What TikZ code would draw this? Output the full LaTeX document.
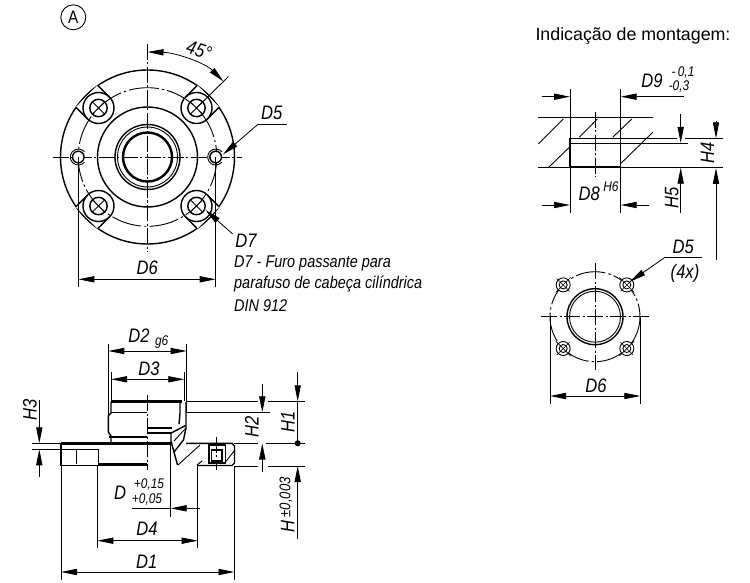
\documentclass[tikz,border=0pt]{standalone}
\usepackage{amsmath}
\usepackage{fontspec}
\setmainfont[FakeStretch=0.85]{Liberation Sans}
\newfontfamily\plainfont{Liberation Sans}
\usetikzlibrary{arrows.meta}
\tikzset{
  thinline/.style={line width=0.9pt},
  heavy/.style={line width=1.4pt},
  thickest/.style={line width=2.4pt},
  axisline/.style={line width=0.8pt,dash pattern=on 16pt off 2.5pt on 2pt off 2.5pt},
  boltcircle/.style={line width=0.9pt,dash pattern=on 30pt off 3pt on 2.5pt off 3pt},
  dimline/.style={line width=0.8pt,{Triangle[length=16pt,width=6.2pt]}-{Triangle[length=16pt,width=6.2pt]}},
  tipend/.style={line width=0.8pt,-{Triangle[length=16pt,width=6.2pt]}},
  dimtext/.style={font=\fontsize{19.5}{19.5}\selectfont\itshape,inner sep=0pt},
  smalltext/.style={font=\fontsize{14}{14}\selectfont\itshape,inner sep=0pt},
  notetext/.style={font=\fontsize{17}{17}\selectfont\itshape,inner sep=0pt,anchor=west},
}
\begin{document}
\begin{tikzpicture}[x=1pt,y=-1pt]
\useasboundingbox (0,0) rectangle (750,583);

% view from above
\coordinate (c) at (147.5,157);
\node[draw,thinline,circle,minimum size=25pt,inner sep=0pt,font=\fontsize{18}{18}\selectfont] (markA) at (73.3,17.3) {A};
\draw[heavy] (c) circle[radius=87] (c) circle[radius=50];
\draw[heavy] (c) circle[radius=32.5];
\draw[thinline] (c) circle[radius=30];
\draw[thickest] (c) circle[radius=24.5];
\draw[boltcircle] (c) circle[radius=69.3];
\foreach \a in {45,135,225,315} {
  \begin{scope}[shift={(c)},rotate=\a]
    \fill[white] (69.3,-15) rectangle (86,15);
    \draw[heavy] (69.3,0) circle[radius=15.5];
    \draw[heavy] (69.3,0) circle[radius=8.7];
    \draw[heavy] (69.3,-15.5) -- (85.3,-15.5) (69.3,15.5) -- (85.3,15.5);
    \draw[thinline] (61,0) -- (78,0) (69.3,-8) -- (69.3,8);
  \end{scope}
}
\draw[axisline] (147.5,44) -- (147.5,252);
\draw[axisline] (52.7,157) -- (242,157);
\foreach \x in {78.3,215.7} {
  \draw[heavy,fill=white] (\x,157) circle[radius=5.8];
  \draw[thinline] (\x,157) ++(40:8) arc[start angle=40,end angle=320,radius=8];
}
\fill (147.5,157) circle[radius=0.8];
\draw[thinline] (196.5,108) -- (228.3,76.7);
\draw[line width=0.8pt,{Triangle[length=16pt,width=6.2pt]}-{Triangle[length=16pt,width=6.2pt]}]
  (147.5,52) .. controls (174,52.5) and (204,62) .. (223.5,81.5);
\node[dimtext,rotate=-18] (ang) at (199,50) {45°};
\coordinate (d5knee) at (258.3,124);
\draw[thinline] (286.7,124) -- (d5knee);
\draw[tipend] (d5knee) -- (223,154.5);
\coordinate (d7end) at (232.7,234);
\draw[tipend] (d7end) -- (205.5,210);
\node[dimtext] (d5top) at (271.7,113) {D5};
\node[dimtext] (d7top) at (246,240.7) {D7};
\node[notetext] (note1) at (234,263) {D7 - Furo passante para};
\node[notetext] (note2) at (234,284.5) {parafuso de cabeça cilíndrica};
\node[notetext] (note3) at (234,306) {DIN 912};
\draw[thinline] (78.3,157) -- (78.3,287) (215.7,157) -- (215.7,287);
\draw[dimline] (78.3,279.3) -- (215.7,279.3);
\node[dimtext] (d6top) at (147.3,268) {D6};

% section from the side
\draw[heavy] (111,401.5) -- (111,413) -- (108.3,416) -- (108.3,432) -- (111,436) -- (111,443);
\draw[thickest] (111,401.5) -- (181.5,401.5);
\draw[heavy] (111,412.7) -- (147,412.7) (147,428) -- (171.7,428) (147,433) -- (171.7,433);
\draw[thickest] (109,436.7) -- (147,436.7);
\draw[heavy] (180,401.5) -- (180,413) -- (179,424) (186,401.5) -- (186,428) -- (183.5,440) -- (174,452);
\draw[heavy] (171.7,432.7) -- (185.7,425.5);
\draw[heavy] (171,433) -- (171,441) -- (177.5,465);
\draw[thinline] (174,441) -- (186,428);
\draw[thinline] (178,465) -- (200,445);
\draw[thinline] (197,465) -- (202,461);
% flange
\draw[thickest] (61,443.3) -- (172,443.3);
\draw[heavy] (186,443.3) -- (232,443.3) -- (234.5,446) -- (234.5,463) -- (232,465.5) -- (197,465.5);
\draw[heavy] (61,443.3) -- (61,465.5) -- (97.5,465.5) (61,449.3) -- (98.3,449.3);
\draw[heavy] (76.7,449.3) -- (76.7,464) (98.3,449.3) -- (98.3,464);
\draw[thickest] (97.5,464.5) -- (147,464.5);
\draw[heavy] (208.8,445) rectangle (225.3,463);
\draw[heavy] (211.5,450) rectangle (222,461);
\draw[thinline] (225.5,462) -- (235,450);
\draw[axisline] (147.3,395) -- (147.3,470);
\draw[axisline] (216.7,436.7) -- (216.7,470);

% dimensions of the side view
\draw[thinline] (108.3,344) -- (108.3,416) (186.7,344) -- (186.7,412);
\draw[dimline] (108.3,351) -- (186.7,351);
\node[dimtext] (d2) at (139,336) {D2};
\node[smalltext] (g6) at (161.7,342) {g6};
\draw[thinline] (111,372) -- (111,401) (184.3,372) -- (184.3,401);
\draw[dimline] (111,379.3) -- (184.3,379.3);
\node[dimtext] (d3) at (149,369) {D3};
\draw[thinline] (31.7,443.3) -- (61,443.3) (31.7,449.3) -- (61,449.3);
\draw[tipend] (39.3,400) -- (39.3,443.3);
\draw[tipend] (39.3,477) -- (39.3,449.3);
\node[dimtext,rotate=90] (h3) at (30,410) {H3};
\draw[thinline] (186,401.3) -- (258,401.3) (268,401.3) -- (305,401.3);
\draw[thinline] (186,412.5) -- (270,412.5);
\draw[thinline] (234,443.3) -- (258,443.3) (266,443.3) -- (305,443.3);
\draw[thinline] (234,466) -- (258,466) (268,466) -- (305,466);
\draw[tipend] (262.3,384) -- (262.3,412.3);
\draw[tipend] (262.3,471.5) -- (262.3,443.5);
\node[dimtext,rotate=90] (h2) at (251.7,427) {H2};
\draw[tipend] (297.7,371.7) -- (297.7,401.3);
\draw[thinline] (297.7,401.3) -- (297.7,443.3);
\fill (297.7,443.3) circle[radius=3];
\draw[tipend] (297.7,539) -- (297.7,466);
\node[dimtext,rotate=90] (h1) at (288,421.7) {H1};
\node[dimtext,rotate=90] (hh) at (287,505) {H\,\raisebox{4pt}{\fontsize{15.5}{15.5}\selectfont ±0,003}};
\draw[thinline] (170.7,443) -- (170.7,516.7) (197.7,465.5) -- (197.7,548);
\draw[thinline] (132,508.3) -- (170.7,508.3);
\draw[tipend] (199.5,508.3) -- (170.7,508.3);
\node[dimtext] (dd) at (120,493) {D};
\node[smalltext] (ddup) at (149,485) {+0,15};
\node[smalltext] (ddlow) at (147,500) {+0,05};
\draw[thinline] (97.3,465.5) -- (97.3,548);
\draw[dimline] (97.3,540.7) -- (197.7,540.7);
\node[dimtext] (d4) at (147,529) {D4};
\draw[thinline] (61,465.5) -- (61,580) (234.5,465.5) -- (234.5,580);
\draw[dimline] (61,572) -- (234.5,572);
\node[dimtext] (d1) at (146.7,561.7) {D1};

% mounting hole
\node[font=\fontsize{17.8}{17.8}\plainfont,inner sep=0pt] (mount) at (633,36) {Indicação de montagem:};
\draw[thinline] (538,117.7) -- (652.7,117.7) (570,143.3) -- (688,143.3);
\draw[thinline] (538,167.7) -- (653,167.7) (620,138.3) -- (676.7,138.3) (685,138.3) -- (723,138.3) (653,167.7) -- (723,167.7);
\foreach \xa/\ya/\xb/\yb in {538.3/144/563.3/119,548.3/167.7/570/146.7,579.3/137.3/597.3/119,612.7/137.3/631.7/119,621/163.3/652.7/132.3}
  \draw[thinline] (\xa,\ya) -- (\xb,\yb);
\draw[heavy] (570,138.3) rectangle (620.7,166.5);
\draw[axisline] (595.7,111.7) -- (595.7,176.7);
\draw[thinline] (570,89) -- (570,213) (620.7,89) -- (620.7,213);
\draw[tipend] (541.7,96.7) -- (570,96.7);
\draw[tipend] (684,96.7) -- (620.7,96.7);
\node[dimtext] (d9) at (652,81) {D9};
\node[smalltext] (d9up) at (683,72.5) {-\,0,1};
\node[smalltext] (d9low) at (679,87) {-0,3};
\draw[tipend] (541.7,205) -- (570,205);
\draw[tipend] (649.3,205) -- (620.7,205);
\node[dimtext] (d8) at (589.3,193.5) {D8};
\node[smalltext] (h6) at (611,187) {H6};
\draw[tipend] (680.7,114) -- (680.7,143);
\draw[tipend] (680.7,212.7) -- (680.7,167.7);
\node[dimtext,rotate=90] (h5) at (671.7,198) {H5};
\draw[tipend] (716,121) -- (716,138.3);
\draw[tipend] (716,260) -- (716,168);
\node[dimtext,rotate=90] (h4) at (707.5,152.7) {H4};

% hole pattern
\coordinate (p) at (595,316.7);
\draw[boltcircle] (p) circle[radius=45];
\draw[heavy] (p) circle[radius=28];
\draw[thinline] (p) circle[radius=25.5];
\foreach \a in {45,135,225,315} {
  \begin{scope}[shift={(p)},rotate=\a]
    \fill[white] (45,0) circle[radius=7];
    \draw[thinline] (45,0) circle[radius=7];
    \draw[thinline] (45,0) circle[radius=4];
    \draw[line width=0.6pt] (36,0) -- (54,0) (45,-10.5) -- (45,10.5);
  \end{scope}
}
\draw[axisline] (541,316.7) -- (649.3,316.7);
\draw[axisline] (595,263) -- (595,370);
\fill (595,316.7) circle[radius=0.8];
\draw[thinline] (550,316.7) -- (550,404) (640.3,316.7) -- (640.3,404);
\draw[dimline] (550,396) -- (640.3,396);
\node[dimtext] (d6low) at (596,385.7) {D6};
\coordinate (d5lowknee) at (665,257.3);
\draw[thinline] (701.7,257.3) -- (d5lowknee);
\draw[tipend] (d5lowknee) -- (630,281.7);
\node[dimtext] (d5low) at (683.3,247) {D5};
\node[font=\fontsize{19.5}{19.5}\selectfont\itshape,inner sep=0pt] (fourx) at (685,273) {(4x)};
\end{tikzpicture}
\end{document}
